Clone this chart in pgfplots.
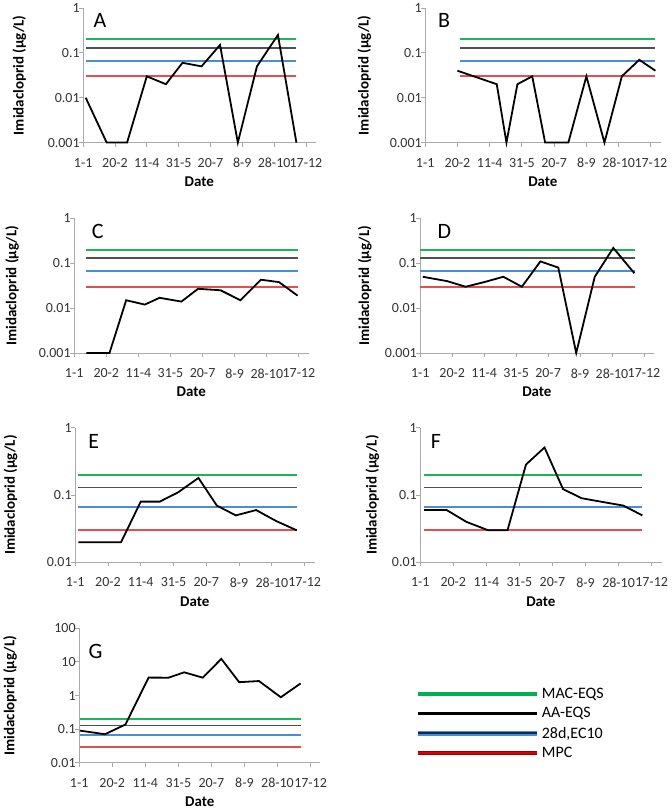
\documentclass[border=0pt]{standalone}
\usepackage{pgfplots}
\pgfplotsset{compat=1.18}
\usepackage{fontspec}
\setmainfont{Carlito}
\definecolor{maceqs}{RGB}{30,180,90}
\definecolor{aaeqs}{RGB}{80,80,80}
\definecolor{ecten}{RGB}{75,140,210}
\definecolor{mpc}{RGB}{225,80,80}
\definecolor{axgray}{RGB}{170,170,170}
\definecolor{leggreen}{RGB}{0,176,80}
\definecolor{legblueA}{RGB}{20,40,80}
\definecolor{legblueB}{RGB}{70,140,220}
\definecolor{legredA}{RGB}{220,0,0}
\definecolor{legredB}{RGB}{150,0,0}
\pgfplotsset{
  mypanel/.style={
    scale only axis, height=135pt,
    xmin=0, xmax=365, clip=false,
    axis x line*=bottom, axis y line*=left,
    axis line style={-,draw=axgray,line width=0.9pt},
    tick style={draw=axgray,line width=0.9pt},
    tick align=outside, major tick length=4pt,
    yminorticks=false,
    xtick={0,50,...,350},
    xticklabels={1-1,20-2,11-4,31-5,20-7,8-9,28-10,17-12},
    ticklabel style={font=\fontsize{14}{14}\selectfont, text=black!80},
    xticklabel style={yshift=-8pt},
    yticklabel style={xshift=4pt},
    xlabel={Date}, ylabel={Imidacloprid (µg/L)},
    label style={font=\bfseries\fontsize{15}{15}\selectfont},
    xlabel style={at={(axis description cs:0.5,0)}, anchor=center, yshift=-39pt},
  },
  mythr/.style={line width=1.7pt, forget plot},
  mydat/.style={black, line width=1.8pt, forget plot},
}
\newcommand{\panlabel}[3]{\node[anchor=west, font=\fontsize{22}{22}\selectfont] at (rel axis cs:#1,#2) {#3};}

\begin{document}
\begin{tikzpicture}[x=1pt,y=1pt]
\path (0,0) rectangle (670,810);

% A
\begin{axis}[mypanel, ymode=log, at={(80pt,667pt)}, anchor=south west, width=233pt,
  ymin=0.001, ymax=1, ytick={0.001,0.01,0.1,1}, yticklabels={0.001,0.01,0.1,1},
  ylabel style={at={(axis description cs:-0.275,0.5)}, anchor=center}]
\addplot[mythr, maceqs] coordinates {(4,0.2)(335,0.2)};
\addplot[mythr, aaeqs] coordinates {(4,0.13)(335,0.13)};
\addplot[mythr, ecten] coordinates {(4,0.067)(335,0.067)};
\addplot[mythr, mpc] coordinates {(4,0.03)(335,0.03)};
\addplot[mydat] coordinates {(4,0.01)(37,0.001)(69,0.001)(100,0.03)(130,0.02)(156,0.06)
  (186,0.05)(215,0.15)(243,0.001)(273,0.05)(306,0.25)(335,0.001)};
\panlabel{0.03}{0.91}{A}
\end{axis}

% B
\begin{axis}[mypanel, ymode=log, at={(423pt,667pt)}, anchor=south west, width=236pt,
  ymin=0.001, ymax=1, ytick={0.001,0.01,0.1,1}, yticklabels={0.001,0.01,0.1,1},
  ylabel style={at={(axis description cs:-0.259,0.5)}, anchor=center}]
\addplot[mythr, maceqs] coordinates {(54,0.2)(357,0.2)};
\addplot[mythr, aaeqs] coordinates {(54,0.13)(357,0.13)};
\addplot[mythr, ecten] coordinates {(54,0.067)(357,0.067)};
\addplot[mythr, mpc] coordinates {(54,0.03)(357,0.03)};
\addplot[mydat] coordinates {(50,0.04)(111,0.02)(126,0.001)(143,0.02)(166,0.03)(186,0.001)
  (222,0.001)(250,0.03)(278,0.001)(305,0.03)(332,0.07)(357,0.04)};
\panlabel{0.04}{0.91}{B}
\end{axis}

% C
\begin{axis}[mypanel, ymode=log, at={(71pt,456pt)}, anchor=south west, width=235pt,
  ymin=0.001, ymax=1, ytick={0.001,0.01,0.1,1}, yticklabels={0.001,0.01,0.1,1},
  ylabel style={at={(axis description cs:-0.265,0.5)}, anchor=center}]
\addplot[mythr, maceqs] coordinates {(19,0.2)(348,0.2)};
\addplot[mythr, aaeqs] coordinates {(19,0.13)(348,0.13)};
\addplot[mythr, ecten] coordinates {(19,0.067)(348,0.067)};
\addplot[mythr, mpc] coordinates {(19,0.03)(348,0.03)};
\addplot[mydat] coordinates {(19,0.001)(55,0.001)(81,0.015)(110,0.012)(133,0.017)(167,0.014)
  (193,0.027)(228,0.025)(259,0.015)(291,0.043)(319,0.038)(348,0.019)};
\panlabel{0.06}{0.9}{C}
\end{axis}

% D
\begin{axis}[mypanel, ymode=log, at={(418pt,456pt)}, anchor=south west, width=234pt,
  ymin=0.001, ymax=1, ytick={0.001,0.01,0.1,1}, yticklabels={0.001,0.01,0.1,1},
  ylabel style={at={(axis description cs:-0.237,0.5)}, anchor=center}]
\addplot[mythr, maceqs] coordinates {(0,0.2)(336,0.2)};
\addplot[mythr, aaeqs] coordinates {(0,0.13)(336,0.13)};
\addplot[mythr, ecten] coordinates {(0,0.067)(336,0.067)};
\addplot[mythr, mpc] coordinates {(0,0.03)(336,0.03)};
\addplot[mydat] coordinates {(4,0.05)(42,0.04)(71,0.03)(100,0.038)(130,0.05)(159,0.03)
  (188,0.11)(216,0.08)(244,0.001)(273,0.05)(302,0.22)(335,0.06)};
\panlabel{0.06}{0.9}{D}
\end{axis}

% E
\begin{axis}[mypanel, ymode=log, at={(72pt,246pt)}, anchor=south west, width=240pt,
  ymin=0.01, ymax=1, ytick={0.01,0.1,1}, yticklabels={0.01,0.1,1},
  ylabel style={at={(axis description cs:-0.27,0.5)}, anchor=center}]
\addplot[mythr, maceqs] coordinates {(5,0.2)(338,0.2)};
\addplot[mythr, aaeqs] coordinates {(5,0.13)(338,0.13)};
\addplot[mythr, ecten] coordinates {(5,0.067)(338,0.067)};
\addplot[mythr, mpc] coordinates {(5,0.03)(338,0.03)};
\addplot[mydat] coordinates {(5,0.02)(37,0.02)(70,0.02)(100,0.08)(129,0.08)(157,0.11)
  (188,0.18)(216,0.07)(245,0.05)(276,0.06)(307,0.041)(338,0.03)};
\panlabel{0.04}{0.9}{E}
\end{axis}

% F
\begin{axis}[mypanel, ymode=log, at={(418pt,246pt)}, anchor=south west, width=242pt,
  ymin=0.01, ymax=1, ytick={0.01,0.1,1}, yticklabels={0.01,0.1,1},
  ylabel style={at={(axis description cs:-0.198,0.5)}, anchor=center}]
\addplot[mythr, maceqs] coordinates {(6,0.2)(336,0.2)};
\addplot[mythr, aaeqs] coordinates {(6,0.13)(336,0.13)};
\addplot[mythr, ecten] coordinates {(6,0.067)(336,0.067)};
\addplot[mythr, mpc] coordinates {(6,0.03)(336,0.03)};
\addplot[mydat] coordinates {(6,0.06)(40,0.06)(70,0.04)(103,0.03)(132,0.03)(160,0.285)
  (188,0.51)(216,0.123)(244,0.09)(273,0.08)(307,0.07)(336,0.05)};
\panlabel{0.03}{0.9}{F}
\end{axis}

% G
\begin{axis}[mypanel, ymode=log, at={(76pt,45pt)}, anchor=south west, width=242pt,
  ymin=0.01, ymax=100, ytick={0.01,0.1,1,10,100}, yticklabels={0.01,0.1,1,10,100},
  ylabel style={at={(axis description cs:-0.286,0.5)}, anchor=center}]
\addplot[mythr, maceqs] coordinates {(1,0.2)(335,0.2)};
\addplot[mythr, aaeqs] coordinates {(1,0.13)(335,0.13)};
\addplot[mythr, ecten] coordinates {(1,0.067)(335,0.067)};
\addplot[mythr, mpc] coordinates {(1,0.03)(335,0.03)};
\addplot[mydat] coordinates {(1,0.091)(39,0.071)(70,0.138)(105,3.42)(135,3.4)(159,4.9)
  (187,3.4)(215,12.3)(242,2.5)(272,2.7)(305,0.89)(335,2.3)};
\panlabel{0.025}{0.83}{G}
\end{axis}

% legend
\begin{axis}[hide axis, scale only axis, at={(0pt,0pt)}, anchor=south west,
  width=670pt, height=810pt, xmin=0, xmax=670, ymin=0, ymax=810,
  legend image code/.code={\draw[#1] (0pt,0pt) -- (120pt,0pt);},
  legend cell align=left,
  legend style={at={(axis cs:413,122)}, anchor=north west, draw=none, fill=none,
    inner sep=0pt, row sep=3.5pt, font=\fontsize{16}{16}\selectfont}]
\addlegendimage{line width=3.5pt, leggreen}
\addlegendentry{MAC-EQS}
\addlegendimage{line width=3.5pt, black}
\addlegendentry{AA-EQS}
\addlegendimage{line width=1.5pt, double=legblueA, double distance=1.8pt, draw=legblueB}
\addlegendentry{28d,EC10}
\addlegendimage{line width=1.2pt, double=legredA, double distance=2pt, draw=legredB}
\addlegendentry{MPC}
\end{axis}
\end{tikzpicture}
\end{document}
